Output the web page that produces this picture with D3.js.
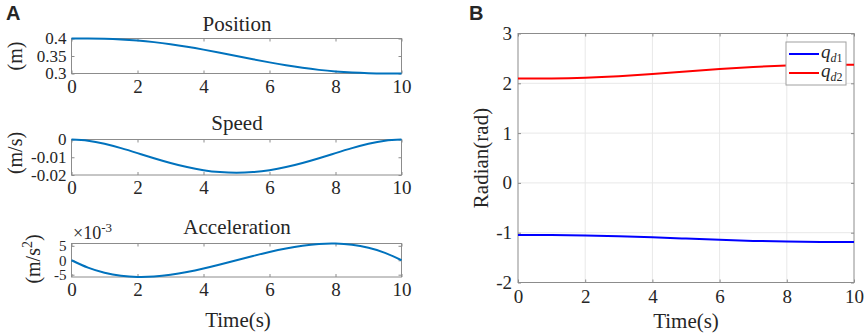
<!DOCTYPE html>
<html>
<head>
<meta charset="utf-8">
<script src="https://cdn.jsdelivr.net/npm/d3@7"></script>
<style>
  body { margin: 0; background: #fff; }
  text { font-family: "Liberation Serif", "Times New Roman", serif; fill: #262626; }
</style>
</head>
<body>
<div id="chart"></div>
<script>
// time samples and trajectories
const tA = [0, 0.5, 1, 1.5, 2, 2.5, 3, 3.5, 4, 4.5, 5, 5.5, 6, 6.5, 7, 7.5, 8, 8.5, 9, 9.5, 10];
const position = [0.4, 0.39988, 0.39914, 0.39734, 0.39421, 0.38965, 0.38369, 0.37648, 0.36826, 0.35931, 0.35,
  0.34069, 0.33174, 0.32352, 0.31631, 0.31035, 0.30579, 0.30266, 0.30086, 0.30012, 0.3];
const speed = [0, -0.000677, -0.00243, -0.004877, -0.00768, -0.010547, -0.01323, -0.015527, -0.01728, -0.018377, -0.01875,
  -0.018377, -0.01728, -0.015527, -0.01323, -0.010547, -0.00768, -0.004877, -0.00243, -0.000677, 0];
// acceleration in units of 1e-3 m/s^2
const accel = [0, -2.565, -4.32, -5.355, -5.76, -5.625, -5.04, -4.095, -2.88, -1.485, 0,
  1.485, 2.88, 4.095, 5.04, 5.625, 5.76, 5.355, 4.32, 2.565, 0];

const tB = [0, 1, 2, 3, 4, 5, 6, 7, 8, 9, 10];
const qd1 = [-1.0472, -1.0484, -1.0555, -1.0706, -1.0924, -1.1180, -1.1432, -1.1643, -1.1786, -1.1852, -1.1864];
const qd2 = [2.0944, 2.0969, 2.1111, 2.1412, 2.1848, 2.2360, 2.2864, 2.3286, 2.3572, 2.3705, 2.3728];

const xTicks = [0, 2, 4, 6, 8, 10];
const posTicks = [0.3, 0.35, 0.4];
const posLabels = ["0.3", "0.35", "0.4"];
const speedTicks = [-0.02, -0.01, 0];
const speedLabels = ["-0.02", "-0.01", "0"];
const accTicks = [-5, 0, 5];
const accLabels = ["-5", "0", "5"];
const bTicks = [-2, -1, 0, 1, 2, 3];
const bLabels = ["-2", "-1", "0", "1", "2", "3"];

const width = 865, height = 336;
const svg = d3.select("#chart").append("svg")
  .attr("width", width).attr("height", height);
svg.append("rect").attr("width", width).attr("height", height).attr("fill", "#fff");

const boxColor = "#8c8c8c";

// one small subplot of panel A
function subplot(top, bottom, yDomain, yTicks, yLabels, values, title, titleY, yFont) {
  const x = d3.scaleLinear().domain([0, 10]).range([71.5, 401.5]);
  const y = d3.scaleLinear().domain(yDomain).range([bottom, top]);
  const g = svg.append("g");

  const xAxis = d3.axisBottom(x).tickValues(xTicks).tickSize(-3).tickPadding(6).tickFormat(d => d);
  const yAxis = d3.axisLeft(y).tickValues(yTicks).tickSize(-3).tickPadding(5)
    .tickFormat((d, i) => yLabels[i]);

  const gx = g.append("g").attr("transform", `translate(0,${bottom})`).call(xAxis)
    .attr("font-family", null).attr("font-size", 19);
  const gy = g.append("g").attr("transform", `translate(${x(0)},0)`).call(yAxis)
    .attr("font-family", null).attr("font-size", yFont);
  // top and right ticks
  g.append("g").attr("transform", `translate(0,${top})`)
    .call(d3.axisTop(x).tickValues(xTicks).tickSize(-3).tickFormat(""));
  g.append("g").attr("transform", `translate(${x(10)},0)`)
    .call(d3.axisRight(y).tickValues(yTicks).tickSize(-3).tickFormat(""));

  g.selectAll(".domain").remove();
  g.selectAll(".tick line").attr("stroke", boxColor);
  g.selectAll(".tick text").attr("fill", "#262626");

  g.append("rect")
    .attr("x", x(0)).attr("y", top)
    .attr("width", x(10) - x(0)).attr("height", bottom - top)
    .attr("fill", "none").attr("stroke", boxColor);

  const line = d3.line().x((d, i) => x(tA[i])).y(d => y(d)).curve(d3.curveNatural);
  g.append("path").datum(values)
    .attr("d", line).attr("fill", "none")
    .attr("stroke", "#0072BD").attr("stroke-width", 2);

  g.append("text").attr("x", 237).attr("y", titleY)
    .attr("text-anchor", "middle").attr("font-size", 21).text(title);
  return g;
}

subplot(38.5, 73.5, [0.3, 0.4], posTicks, posLabels, position, "Position", 31, 17);
subplot(139.5, 175, [-0.02, 0], speedTicks, speedLabels, speed, "Speed", 130, 17);
subplot(243.5, 277, [-5.8, 5.8], accTicks, accLabels, accel, "Acceleration", 234, 15);

// y labels of panel A
svg.append("text").attr("transform", "translate(22,56) rotate(-90)")
  .attr("text-anchor", "middle").attr("font-size", 20).text("(m)");
svg.append("text").attr("transform", "translate(22,153) rotate(-90)")
  .attr("text-anchor", "middle").attr("font-size", 20).text("(m/s)");
const accLab = svg.append("text").attr("transform", "translate(40,259) rotate(-90)")
  .attr("text-anchor", "middle").attr("font-size", 20);
accLab.append("tspan").text("(m/s");
accLab.append("tspan").attr("dy", -8).attr("font-size", 14).text("2");
accLab.append("tspan").attr("dy", 8).text(")");

// exponent note
const expo = svg.append("text").attr("x", 73).attr("y", 239).attr("font-size", 18);
expo.append("tspan").text("\u00d710");
expo.append("tspan").attr("dy", -7).attr("font-size", 13).text("-3");

svg.append("text").attr("x", 238).attr("y", 327)
  .attr("text-anchor", "middle").attr("font-size", 21).text("Time(s)");

// panel B
const xB = d3.scaleLinear().domain([0, 10]).range([518, 854]);
const yB = d3.scaleLinear().domain([-2, 3]).range([282.5, 33.5]);
const gB = svg.append("g");

// grid
gB.append("g").selectAll("line").data(xTicks.slice(1, -1)).join("line")
  .attr("x1", d => xB(d)).attr("x2", d => xB(d))
  .attr("y1", yB(3)).attr("y2", yB(-2))
  .attr("stroke", "#e8e8e8");
gB.append("g").selectAll("line").data(bTicks.slice(1, -1)).join("line")
  .attr("x1", xB(0)).attr("x2", xB(10))
  .attr("y1", d => yB(d)).attr("y2", d => yB(d))
  .attr("stroke", "#e8e8e8");

gB.append("g").attr("transform", `translate(0,${yB(-2)})`)
  .call(d3.axisBottom(xB).tickValues(xTicks).tickSize(-3).tickPadding(7).tickFormat(d => d))
  .attr("font-family", null).attr("font-size", 19);
gB.append("g").attr("transform", `translate(${xB(0)},0)`)
  .call(d3.axisLeft(yB).tickValues(bTicks).tickSize(-3).tickPadding(6).tickFormat((d, i) => bLabels[i]))
  .attr("font-family", null).attr("font-size", 19);
gB.append("g").attr("transform", `translate(0,${yB(3)})`)
  .call(d3.axisTop(xB).tickValues(xTicks).tickSize(-3).tickFormat(""));
gB.append("g").attr("transform", `translate(${xB(10)},0)`)
  .call(d3.axisRight(yB).tickValues(bTicks).tickSize(-3).tickFormat(""));
gB.selectAll(".domain").remove();
gB.selectAll(".tick line").attr("stroke", boxColor);
gB.selectAll(".tick text").attr("fill", "#262626");

gB.append("rect")
  .attr("x", xB(0)).attr("y", yB(3))
  .attr("width", xB(10) - xB(0)).attr("height", yB(-2) - yB(3))
  .attr("fill", "none").attr("stroke", boxColor);

const lineB = d3.line().x((d, i) => xB(tB[i])).y(d => yB(d)).curve(d3.curveNatural);
gB.append("path").datum(qd1).attr("d", lineB)
  .attr("fill", "none").attr("stroke", "#0000ff").attr("stroke-width", 2);
gB.append("path").datum(qd2).attr("d", lineB)
  .attr("fill", "none").attr("stroke", "#ff0000").attr("stroke-width", 2);

// legend
const leg = gB.append("g").attr("transform", "translate(786,42)");
leg.append("rect").attr("width", 60).attr("height", 43)
  .attr("fill", "#fff").attr("stroke", "#a0a0a0");
const legItems = [{ name: "1", color: "#0000ff" }, { name: "2", color: "#ff0000" }];
legItems.forEach((d, i) => {
  const yy = 12 + i * 19;
  leg.append("line").attr("x1", 3).attr("x2", 33).attr("y1", yy).attr("y2", yy)
    .attr("stroke", d.color).attr("stroke-width", 2);
  const t = leg.append("text").attr("x", 35).attr("y", yy + 4).attr("font-size", 19);
  t.append("tspan").attr("font-style", "italic").text("q");
  t.append("tspan").attr("dy", 4).attr("font-size", 12).attr("font-style", "italic").text("d");
  t.append("tspan").attr("font-size", 12).text(d.name);
});

svg.append("text").attr("transform", "translate(488,158) rotate(-90)")
  .attr("text-anchor", "middle").attr("font-size", 21).text("Radian(rad)");
svg.append("text").attr("x", 686).attr("y", 328)
  .attr("text-anchor", "middle").attr("font-size", 21).text("Time(s)");

// panel letters
svg.append("text").attr("x", 6).attr("y", 20)
  .attr("font-weight", "bold").attr("font-size", 20).style("font-family", "Liberation Sans").text("A");
svg.append("text").attr("x", 469).attr("y", 20)
  .attr("font-weight", "bold").attr("font-size", 20).style("font-family", "Liberation Sans").text("B");
</script>
</body>
</html>
